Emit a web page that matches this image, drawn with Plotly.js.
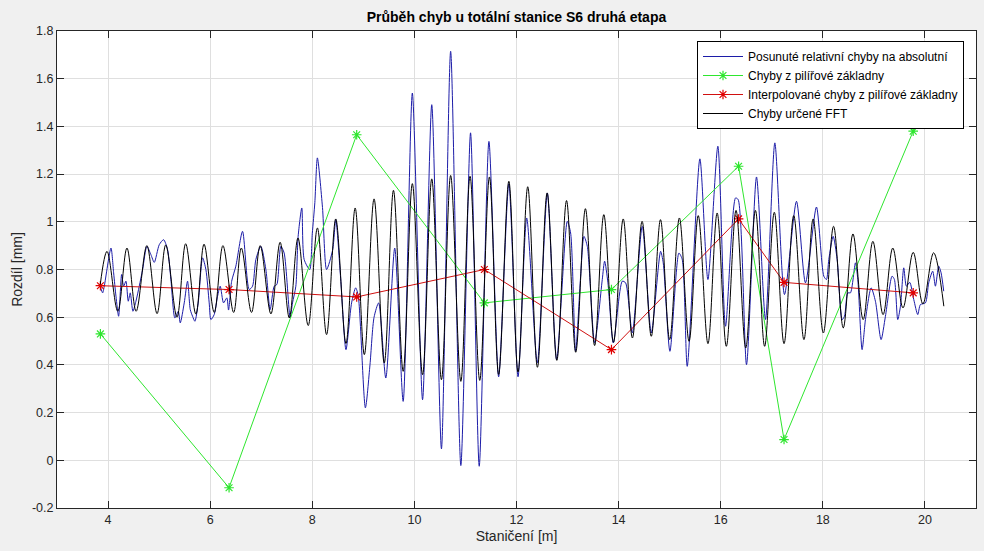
<!DOCTYPE html>
<html>
<head>
<meta charset="utf-8">
<script src="https://cdn.plot.ly/plotly-3.0.1.min.js"></script>
<style>
html,body{margin:0;padding:0;background:#f0f0f0;}
#chart{width:984px;height:551px;}
</style>
</head>
<body>
<div id="chart"></div>
<script>
// Title and labels
var chartTitle = 'Průběh chyb u totální stanice S6 druhá etapa';
var xLabel = 'Staničení [m]';
var yLabel = 'Rozdíl [mm]';
var seriesNames = ['Posunuté relativní chyby na absolutní', 'Chyby z pilířové základny', 'Interpolované chyby z pilířové základny', 'Chyby určené FFT'];

// Pillar base stations
var stationX = [3.85, 6.37, 8.87, 11.37, 13.86, 16.35, 17.24, 19.77];
var pillarErr = [0.53, -0.115, 1.365, 0.66, 0.716, 1.233, 0.087, 1.38];
var interpErr = [0.732, 0.716, 0.685, 0.80, 0.464, 1.012, 0.746, 0.702];

// Shifted relative errors (blue)
var blueX = [3.848,3.894,3.926,4.057,4.109,4.155,4.207,4.266,4.305,4.350,4.396,4.435,4.487,4.546,4.611,4.677,4.761,4.840,4.905,5.003,5.088,5.166,5.231,5.309,5.375,5.414,5.492,5.557,5.610,5.655,5.701,5.766,5.851,5.916,5.981,6.014,6.079,6.145,6.197,6.262,6.327,6.36,6.42,6.503,6.634,6.764,6.830,6.895,6.993,7.091,7.175,7.254,7.306,7.384,7.449,7.567,7.613,7.678,7.723,7.795,7.841,7.95,8.00,8.05,8.10,8.20,8.28,8.40,8.46,8.56,8.66,8.77,8.85,8.90,9.04,9.13,9.21,9.30,9.44,9.615,9.78,9.96,10.16,10.34,10.53,10.71,10.91,11.10,11.27,11.46,11.65,11.85,12.03,12.20,12.408,12.604,12.786,12.995,13.060,13.158,13.256,13.321,13.387,13.530,13.680,13.726,13.791,13.896,14.072,14.137,14.268,14.463,14.640,14.822,14.874,15.005,15.181,15.246,15.344,15.592,15.749,15.944,16.094,16.290,16.342,16.505,16.701,16.877,17.060,17.249,17.484,17.660,17.875,18.019,18.071,18.117,18.202,18.280,18.378,18.424,18.489,18.541,18.639,18.685,18.769,18.835,18.946,19.030,19.141,19.226,19.356,19.402,19.467,19.520,19.585,19.637,19.702,19.781,19.859,19.911,20.009,20.074,20.152,20.205,20.270,20.316,20.368];
var blueY = [0.730,0.702,0.730,0.890,0.786,0.688,0.604,0.779,0.730,0.751,0.667,0.702,0.625,0.667,0.730,0.800,0.897,0.862,0.830,0.904,0.925,0.883,0.758,0.597,0.625,0.576,0.660,0.751,0.632,0.604,0.583,0.660,0.849,0.800,0.660,0.590,0.611,0.688,0.730,0.660,0.681,0.630,0.750,0.814,0.960,0.716,0.730,0.842,0.897,0.800,0.632,0.730,0.737,0.897,0.869,0.597,0.660,0.730,0.939,1.058,0.842,0.800,0.950,1.080,1.268,1.060,0.800,0.883,1.009,0.750,0.464,0.660,0.723,0.690,0.220,0.400,0.600,0.660,0.345,0.890,0.247,1.540,0.254,1.491,0.048,1.715,-0.022,1.373,-0.025,1.337,0.350,1.160,0.350,1.016,0.408,1.121,0.422,1.002,0.953,0.457,0.772,0.939,0.897,0.492,0.758,0.835,0.744,0.492,0.751,0.744,0.534,0.981,0.534,0.876,0.828,0.457,0.869,0.842,0.394,1.264,0.758,1.317,0.562,1.100,1.093,0.401,1.188,0.590,1.331,0.695,1.086,0.744,1.062,0.772,0.758,0.842,0.939,0.842,0.590,0.604,0.702,0.702,0.828,0.758,0.464,0.590,0.723,0.667,0.506,0.604,0.772,0.758,0.590,0.646,0.807,0.730,0.746,0.674,0.611,0.653,0.660,0.744,0.793,0.730,0.814,0.786,0.709];

// FFT-determined errors (black), read at start, peaks, troughs and end
var fftX = [3.847,3.98,4.19,4.37,4.55,4.76,4.96,5.13,5.35,5.52,5.72,5.88,6.08,6.25,6.46,6.61,6.81,6.98,7.19,7.37,7.55,7.72,7.92,8.10,8.28,8.46,8.66,8.84,9.02,9.21,9.41,9.59,9.78,9.96,10.16,10.34,10.53,10.71,10.91,11.09,11.28,11.47,11.65,11.85,12.03,12.22,12.41,12.60,12.79,12.98,13.16,13.35,13.53,13.71,13.90,14.09,14.27,14.46,14.64,14.82,15.00,15.19,15.38,15.56,15.75,15.93,16.11,16.30,16.49,16.68,16.86,17.05,17.24,17.43,17.63,17.81,18.01,18.21,18.40,18.59,18.79,18.98,19.18,19.37,19.57,19.77,19.96,20.17,20.37];
var fftY = [0.737,0.876,0.625,0.890,0.625,0.900,0.615,0.903,0.600,0.908,0.613,0.906,0.620,0.900,0.620,0.890,0.620,0.900,0.614,0.914,0.597,0.932,0.565,0.974,0.527,1.012,0.490,1.058,0.443,1.096,0.408,1.132,0.373,1.160,0.359,1.180,0.338,1.194,0.331,1.191,0.335,1.188,0.360,1.170,0.370,1.147,0.390,1.121,0.419,1.089,0.453,1.055,0.481,1.030,0.495,1.012,0.513,1.002,0.520,1.009,0.506,1.016,0.499,1.026,0.489,1.037,0.478,1.048,0.471,1.048,0.478,1.040,0.489,1.026,0.506,1.012,0.534,0.981,0.555,0.949,0.590,0.918,0.611,0.890,0.639,0.872,0.656,0.870,0.646];

// Axis ticks
var xTicks = [4, 6, 8, 10, 12, 14, 16, 18, 20];
var yTickVals = [-0.2, 0, 0.2, 0.4, 0.6, 0.8, 1, 1.2, 1.4, 1.6, 1.8];
var yTickText = ['-0.2', '0', '0.2', '0.4', '0.6', '0.8', '1', '1.2', '1.4', '1.6', '1.8'];

var FONT = 'Liberation Sans, Arial, Helvetica, sans-serif';
var AXC = '#262626';
var GRID = '#dfdfdf';

var traces = [
  {x: blueX, y: blueY, type: 'scatter', mode: 'lines', name: seriesNames[0],
   line: {color: '#1c1ca8', width: 1, shape: 'spline', smoothing: 0.7}},
  {x: stationX, y: pillarErr, type: 'scatter', mode: 'lines+markers', name: seriesNames[1],
   line: {color: '#2ee62e', width: 1},
   marker: {symbol: 'asterisk-open', size: 8, color: '#2ee62e', line: {color: '#2ee62e', width: 1.2}}},
  {x: stationX, y: interpErr, type: 'scatter', mode: 'lines+markers', name: seriesNames[2],
   line: {color: '#d01010', width: 1},
   marker: {symbol: 'asterisk-open', size: 8, color: '#e00000', line: {color: '#e00000', width: 1.2}}},
  {x: fftX, y: fftY, type: 'scatter', mode: 'lines', name: seriesNames[3],
   line: {color: '#000000', width: 1, shape: 'spline', smoothing: 1}}
];

var axisCommon = {
  showline: true, linecolor: AXC, linewidth: 1, mirror: 'ticks',
  ticks: 'inside', ticklen: 7, tickcolor: AXC, tickwidth: 1,
  showgrid: true, gridcolor: GRID, gridwidth: 1, zeroline: false,
  tickfont: {family: FONT, size: 12.5, color: AXC},
  automargin: false
};

var layout = {
  width: 984, height: 551,
  margin: {l: 57, r: 8, t: 31, b: 43, pad: 0},
  paper_bgcolor: '#f0f0f0', plot_bgcolor: '#ffffff',
  font: {family: FONT, color: AXC},
  showlegend: true,
  title: {text: '<b>' + chartTitle + '</b>', font: {family: FONT, size: 14, color: '#000000'},
          x: 0.5, xref: 'paper', xanchor: 'center', y: 1 - 17/551, yref: 'container', yanchor: 'middle'},
  xaxis: Object.assign({}, axisCommon, {
    range: [3, 21], tickvals: xTicks, ticktext: xTicks.map(String),
    title: {text: xLabel, font: {family: FONT, size: 14, color: AXC}, standoff: 5}
  }),
  yaxis: Object.assign({}, axisCommon, {
    range: [-0.2, 1.8], tickvals: yTickVals, ticktext: yTickText,
    title: {text: yLabel, font: {family: FONT, size: 14, color: AXC}, standoff: 6}
  }),
  legend: {
    x: (964 - 57) / 919, xanchor: 'right', y: 1 - 10 / 477, yanchor: 'top',
    bgcolor: '#ffffff', bordercolor: '#000000', borderwidth: 1,
    font: {family: FONT, size: 12, color: '#000000'},
    tracegroupgap: 0, itemwidth: 40
  }
};

Plotly.newPlot('chart', traces, layout, {displayModeBar: false, staticPlot: true});
</script>
</body>
</html>
